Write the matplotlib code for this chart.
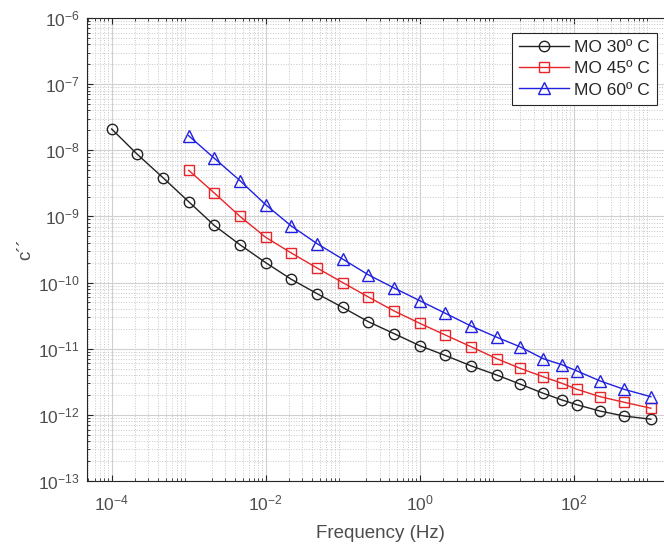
import numpy as np
import matplotlib
matplotlib.use("Agg")
import matplotlib.pyplot as plt
from matplotlib.ticker import LogLocator, NullFormatter

plt.rcParams['font.family'] = ['Liberation Sans', 'DejaVu Sans']

# frequencies (Hz)
freq_30 = [1e-4, 2.15e-4, 4.64e-4, 1e-3, 2.15e-3, 4.64e-3, 1e-2, 2.15e-2, 4.64e-2,
           0.1, 0.215, 0.464, 1, 2.15, 4.64, 10, 20, 40, 70, 110, 220, 450, 1000]
freq_hot = [1e-3, 2.15e-3, 4.64e-3, 1e-2, 2.15e-2, 4.64e-2,
            0.1, 0.215, 0.464, 1, 2.15, 4.64, 10, 20, 40, 70, 110, 220, 450, 1000]

# c'' values
c_30 = [2.1e-8, 8.7e-9, 3.85e-9, 1.67e-9, 7.3e-10, 3.73e-10, 2.0e-10, 1.12e-10, 6.8e-11,
        4.2e-11, 2.56e-11, 1.69e-11, 1.11e-11, 7.9e-12, 5.5e-12, 4.0e-12, 2.92e-12,
        2.12e-12, 1.68e-12, 1.42e-12, 1.14e-12, 9.6e-13, 8.6e-13]
c_45 = [4.98e-9, 2.26e-9, 1.0e-9, 4.83e-10, 2.8e-10, 1.66e-10, 1.0e-10, 6.05e-11,
        3.72e-11, 2.42e-11, 1.61e-11, 1.07e-11, 7.06e-12, 5.06e-12, 3.77e-12, 3.0e-12,
        2.43e-12, 1.88e-12, 1.55e-12, 1.26e-12]
c_60 = [1.66e-8, 7.57e-9, 3.47e-9, 1.5e-9, 7.16e-10, 3.88e-10, 2.26e-10, 1.31e-10,
        8.28e-11, 5.32e-11, 3.43e-11, 2.2e-11, 1.49e-11, 1.07e-11, 7.06e-12, 5.73e-12,
        4.6e-12, 3.25e-12, 2.43e-12, 1.88e-12]

fig = plt.figure(figsize=(6.64, 5.44), dpi=100)
# axes runs slightly past right edge of the figure (cropped like the original)
x0, x1 = 86.7, 674.0
ax = fig.add_axes([x0 / 664, (544 - 481) / 544, (x1 - x0) / 664, (481 - 18) / 544])

ax.plot(freq_30, c_30, '-o', color='#222222', mfc='none', ms=7.5, lw=1, mew=1, label='MO 30º C')
ax.plot(freq_hot, c_45, '-s', color='#e8262a', mfc='none', ms=6.5, lw=1, mew=1, label='MO 45º C')
ax.plot(freq_hot, c_60, '-^', color='#2020e0', mfc='none', ms=8, lw=1, mew=1, label='MO 60º C')

ax.set_xscale('log')
ax.set_yscale('log')
ax.set_xlim(10 ** -4.324, 10 ** 3.3)
ax.set_ylim(1e-13, 1e-6)

ax.xaxis.set_major_locator(LogLocator(base=10, numticks=20))
ax.yaxis.set_major_locator(LogLocator(base=10, numticks=20))
ax.xaxis.set_minor_locator(LogLocator(base=10, subs=np.arange(2, 10), numticks=20))
ax.yaxis.set_minor_locator(LogLocator(base=10, subs=np.arange(2, 10), numticks=20))
ax.xaxis.set_minor_formatter(NullFormatter())
ax.yaxis.set_minor_formatter(NullFormatter())
ax.set_xticks([1e-4, 1e-2, 1e0, 1e2])

ax.grid(True, which='major', color='#d0d0d0', lw=0.8, ls='-')
ax.grid(True, which='minor', color='#c8c8c8', lw=0.7, ls=':')
ax.set_axisbelow(True)

ax.tick_params(which='both', direction='in', top=True, right=True, colors='#262626',
               labelcolor='#4d4d4d', labelsize=12.5)
ax.tick_params(which='major', length=4)
ax.tick_params(which='minor', length=2)
ax.tick_params(axis='x', which='major', pad=9)
ax.tick_params(axis='y', which='major', pad=5)
for s in ax.spines.values():
    s.set_color('#262626')
    s.set_linewidth(0.8)

ax.set_xlabel('Frequency (Hz)', fontsize=13.5, color='#4d4d4d', labelpad=8)
ax.set_ylabel('c´´', fontsize=13.5, color='#4d4d4d', labelpad=3)

leg = ax.legend(loc='upper right', bbox_to_anchor=(657 / 664, 1 - 33 / 544),
                bbox_transform=fig.transFigure, borderaxespad=0, fancybox=False,
                framealpha=1, edgecolor='#262626', fontsize=12.5, handlelength=2.9,
                borderpad=0.4, labelspacing=0.35, handletextpad=0.3)
leg.get_frame().set_linewidth(0.8)
for t in leg.get_texts():
    t.set_color('#262626')

fig.savefig('out.png', dpi=100)
